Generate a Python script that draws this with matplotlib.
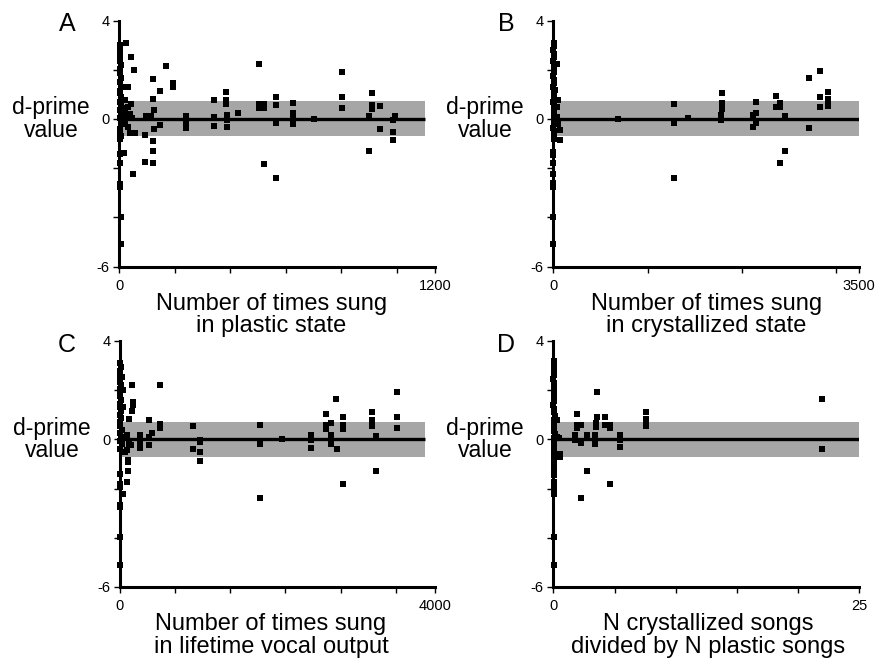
import matplotlib
matplotlib.use("Agg")
import matplotlib.pyplot as plt
import numpy as np

plt.rcParams['font.family'] = ['Liberation Sans', 'DejaVu Sans']

# ---------------- data ----------------
panel_letters = ["A", "B", "C", "D"]
x_labels = ["Number of times sung\nin plastic state",
            "Number of times sung\nin crystallized state",
            "Number of times sung\nin lifetime vocal output",
            "N crystallized songs\ndivided by N plastic songs"]
x_max = [1200, 3500, 4000, 25]
x_tick_labels = [["0", "1200"], ["0", "3500"], ["0", "4000"], ["0", "25"]]
x_minor_step = [211, 1078, 700, 5]
band_end = [1162, 3500, 3873, 25]
band_low, band_high = -0.71, 0.71
y_ticks = [4, 0, -6]
y_minor = [2, -2, -4]

# Panel A: plastic state
a_x = [2, 4, 1, 3, 2, 5, 1, 3, 6, 2, 15, 34, 25, 1, 4, 8, 22, 2, 44, 5, 34, 12, 3, 20, 40, 10, 2, 28, 50,
       6, 22, 14, 34, 3, 40, 60, 2, 8, 3, 19, 2, 2, 53, 1, 1, 6, 6, 24, 44, 54,
       129, 127, 132, 100, 119, 132, 129, 129, 129, 99, 99, 176, 155, 155, 203, 203,
       253, 253, 253, 361, 361, 361, 405, 405, 405, 411, 411, 408, 451,
       530, 530, 530, 549, 549, 549, 594, 594, 594, 595, 659, 659, 659, 659, 741,
       845, 845, 845, 948, 948, 962, 962, 962, 991, 991, 1047, 1041, 1039, 1039]
a_y = [3.0, 2.85, 2.7, 2.55, 2.35, 2.2, 2.05, 1.86, 1.65, 1.5, 1.3, 1.3, 1.3, 1.15, 1.04, 0.9, 0.77, 0.7,
       0.61, 0.55, 0.5, 0.45, 0.35, 0.3, 0.2, 0.15, 0.05, 0.1, 0.05,
       -0.05, -0.1, -0.2, -0.31, -0.4, -0.56, -0.56, -0.55, -0.69, -0.8, -1.40, -1.42, -1.80, -2.24,
       -2.65, -2.75, -3.97, -5.09, 3.08, 2.53, 1.99,
       1.63, 0.83, 0.37, 0.14, 0.14, -0.42, -0.89, -1.29, -1.80, -1.75, -0.65, 2.17, 1.14, -0.23, 1.45, 1.31,
       0.14, -0.11, -0.37, 0.77, 0.07, -0.27, 1.08, 0.77, 0.61, 0.16, -0.04, -0.34, 0.23,
       2.22, 0.61, 0.43, 0.61, 0.43, -1.83, 0.91, 0.57, -0.18, -2.41, 0.66, 0.23, 0.12, -0.22, 0.0,
       1.91, 0.88, 0.46, 0.12, -1.30, 1.04, 0.57, 0.41, 0.54, -0.41, 0.14, -0.04, -0.51, -0.87]

# Panel B: crystallized state
b_x = [3, 8, 2, 6, 4, 1, 7, 3, 5, 2, 9, 4, 1, 6, 3, 10, 2, 5, 8, 3, 12, 4, 6, 2, 9, 5, 3,
       1, 2, 1, 2, 1, 1, 1, 1,
       38, 19, 57, 38, 76, 76, 38, 57,
       736, 1376, 1376, 1376, 1544, 1929, 1929, 1929, 1929, 1914, 1914,
       2280, 2280, 2280, 2318, 2318, 2318, 2543, 2543, 2593, 2593, 2593, 2654, 2654,
       2921, 2921, 3047, 3047, 3047, 3142, 3142, 3142, 3142]
b_y = [3.1, 2.95, 2.8, 2.65, 2.5, 2.35, 2.2, 2.05, 1.9, 1.75, 1.6, 1.45, 1.3, 1.15, 1.0, 0.85, 0.7,
       0.55, 0.4, 0.25, 0.1, -0.05, -0.2, -0.35, -0.5, -0.65, -0.8,
       -1.33, -1.45, -1.80, -2.24, -2.6, -2.75, -3.97, -5.09,
       2.24, 1.18, 0.77, 0.5, -0.45, -0.85, 0.1, -0.2,
       0.0, 0.60, -0.15, -2.38, 0.03, 1.04, 0.64, 0.53, 0.41, 0.16, -0.04,
       0.16, 0.03, -0.34, 0.68, 0.23, -0.15, 0.93, 0.50, 0.64, 0.47, -1.80, 0.12, -1.29,
       1.65, -0.38, 1.94, 0.91, 0.47, 1.08, 0.80, 0.66, 0.53]

# Panel C: lifetime vocal output
c_x = [3, 10, 2, 6, 4, 1, 8, 3, 5, 2, 12, 4, 1, 7, 3, 15, 2, 6, 20, 3, 9, 4, 25, 2,
       30, 42, 42, 85, 114, 85, 63, 106, 106, 85, 105, 42, 2, 2, 2, 1, 1, 4, 4,
       148, 508, 169, 169, 148, 119, 372, 508, 508, 410, 372, 254, 254, 254, 372, 140,
       923, 923, 1016, 1016, 1016, 1016, 1782, 1782, 1782, 2061,
       2426, 2426, 2426, 2616, 2616, 2616, 2679, 2679, 2679, 2743, 2751,
       2836, 2836, 2836, 2836, 3196, 3196, 3196, 3196, 3251, 3251, 3513, 3513, 3513]
c_y = [3.1, 2.95, 2.8, 2.65, 2.5, 2.35, 2.2, 2.05, 1.9, 1.75, 1.6, 1.45, 1.3, 1.15, 1.0, 0.85,
       0.7, 0.55, 0.4, 0.25, 0.1, -0.05, -0.2, -0.4,
       2.53, 1.99, 1.31, 0.16, -0.18, -0.45, -0.51, -0.85, -1.30, -1.73, -0.92, -2.21,
       -1.40, -1.80, -1.95, -2.65, -2.75, -3.97, -5.09,
       2.20, 2.22, 1.52, 1.38, 1.15, 0.84, 0.77, 0.64, 0.46, 0.26, 0.09, 0.19, -0.11, -0.34, -0.24, -0.24,
       0.54, -0.41, -0.01, -0.11, -0.51, -0.88, 0.57, -0.18, -2.38, 0.0,
       0.16, -0.01, -0.34, 1.04, 0.60, 0.43, 0.66, 0.16, -0.18, 1.65, -0.41,
       0.91, 0.57, 0.41, -1.80, 1.10, 0.80, 0.64, 0.53, 0.12, -1.29, 1.94, 0.91, 0.46]

# Panel D: ratio crystallized / plastic
d_x = [0.02, 0.06, 0.03, 0.08, 0.04, 0.01, 0.07, 0.03, 0.05, 0.02, 0.09, 0.04, 0.01, 0.06, 0.03,
       0.1, 0.02, 0.05, 0.08, 0.03, 0.12, 0.04, 0.06, 0.02, 0.09, 0.05, 0.03,
       0.27, 0.54, 0.54, 0.3, 0.5,
       0.02, 0.02, 0.02, 0.02, 0.02, 0.02, 0.02, 0.02, 0.02,
       1.96, 1.96, 1.96, 2.23, 1.77, 1.77, 2.23, 2.23, 2.72, 2.78, 3.40, 3.40, 3.54, 3.54, 3.49, 3.49,
       4.22, 4.22, 4.63, 4.63, 4.63, 5.47, 5.47, 5.47, 7.57, 7.57, 7.57, 7.57, 21.92, 21.92]
d_y = [3.2, 3.05, 2.9, 2.75, 2.6, 2.45, 2.3, 2.15, 2.0, 1.85, 1.7, 1.55, 1.4, 1.25, 1.1, 0.95,
       0.8, 0.65, 0.5, 0.35, 0.2, 0.05, -0.1, -0.25, -0.4, -0.55, -0.8,
       0.77, -0.58, -0.72, 0.1, 0.05,
       -0.92, -1.1, -1.33, -1.46, -1.73, -1.97, -2.21, -3.97, -5.09,
       1.04, 0.57, 0.46, 0.60, 0.16, -0.04, -0.14, -2.38, 0.16, -1.29, 0.16, -0.18, 1.94, 0.91, 0.66, 0.50,
       0.93, 0.57, 0.60, 0.46, -1.80, 0.16, -0.01, -0.31, 1.11, 0.81, 0.68, 0.54, 1.65, -0.38]

xs = [a_x, b_x, c_x, d_x]
ys = [a_y, b_y, c_y, d_y]

# ---------------- layout (pixels of an 891x667 canvas) ----------------
W, H = 891, 667
boxes = [(119.3, 20.5, 435, 266.7), (553.3, 20.5, 859.3, 266.7),
         (120, 341, 435, 587), (553.3, 341, 859.3, 587)]
letter_pos = [(67, 24), (506, 24), (67, 345), (506, 345)]
label_cx = [0.481, 0.5, 0.479, 0.505]

fig = plt.figure(figsize=(W / 100, H / 100), dpi=100)

for i in range(4):
    x0, y0, x1, y1 = boxes[i]
    ax = fig.add_axes([x0 / W, 1 - y1 / H, (x1 - x0) / W, (y1 - y0) / H])
    ax.set_xlim(0, x_max[i])
    ax.set_ylim(-6, 4)
    ax.fill_between([0, band_end[i]], band_low, band_high, color='#a6a6a6', lw=0, zorder=1)
    ax.plot([0, band_end[i]], [0, 0], color='black', lw=2.4, zorder=2, solid_capstyle='butt')
    ax.scatter(xs[i], ys[i], marker='s', s=13, color='black', lw=0, zorder=3, clip_on=False)

    for s in ['top', 'right']:
        ax.spines[s].set_visible(False)
    for s in ['left', 'bottom']:
        ax.spines[s].set_linewidth(2.2)
        ax.spines[s].set_zorder(4)

    ax.set_yticks(y_ticks)
    ax.set_yticklabels([str(t) for t in y_ticks])
    ax.set_yticks(y_minor, minor=True)
    ax.set_xticks([0, x_max[i]])
    ax.set_xticklabels(x_tick_labels[i])
    ax.set_xticks(np.arange(x_minor_step[i], x_max[i] * 0.99, x_minor_step[i]), minor=True)
    ax.tick_params(which='both', direction='out', length=4, width=1, labelsize=10.5, pad=3)
    ax.tick_params(axis='x', which='major', pad=5)

    ax.set_xlabel(x_labels[i], fontsize=17, linespacing=1.05)
    ax.xaxis.set_label_coords(label_cx[i], -0.105)

    ax.annotate('d-prime\nvalue', xy=(0, 0), xycoords=('axes fraction', 'data'),
                xytext=(-49, 0), textcoords='offset points', ha='center', va='center',
                fontsize=16.5, linespacing=0.95, multialignment='center')

    lx, ly = letter_pos[i]
    fig.text(lx / W, 1 - ly / H, panel_letters[i], fontsize=18, ha='center', va='center')

fig.savefig('out.png', dpi=100)
